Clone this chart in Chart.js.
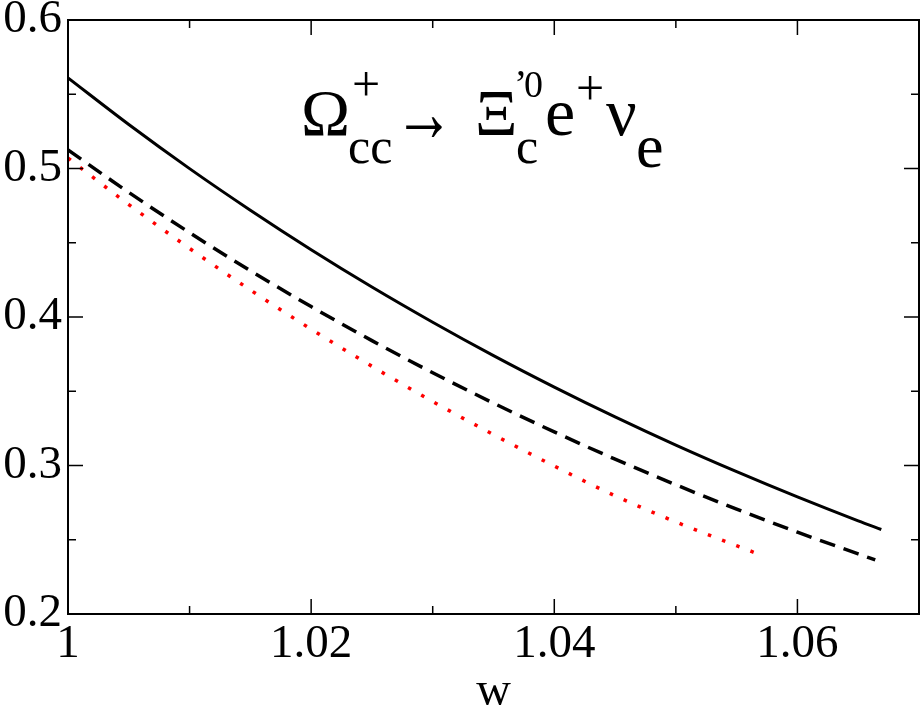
<!DOCTYPE html>
<html>
<head>
<meta charset="utf-8">
<script src="https://cdn.jsdelivr.net/npm/chart.js@4/dist/chart.umd.min.js"></script>
<style>
  html, body { margin: 0; padding: 0; background: #fff; }
  canvas { display: block; }
</style>
</head>
<body>
<canvas id="c" width="922" height="716"></canvas>
<script>
/* ===== data ===== */
const wSolid  = [1.000, 1.005, 1.010, 1.015, 1.020, 1.025, 1.030, 1.035, 1.040, 1.045, 1.050, 1.055, 1.060, 1.065, 1.0669];
const fSolid  = [0.561, 0.5296, 0.4999, 0.4719, 0.4453, 0.4202, 0.3965, 0.3740, 0.3528, 0.3327, 0.3137, 0.2958, 0.2788, 0.2627, 0.2569];

const wDashed = [1.000, 1.005, 1.010, 1.015, 1.020, 1.025, 1.030, 1.035, 1.040, 1.045, 1.050, 1.055, 1.060, 1.065, 1.0664];
const fDashed = [0.5125, 0.4839, 0.4568, 0.4312, 0.4070, 0.3841, 0.3625, 0.3420, 0.3226, 0.3043, 0.2870, 0.2706, 0.2551, 0.2405, 0.2364];

const wDotted = [1.000, 1.005, 1.010, 1.015, 1.020, 1.025, 1.030, 1.035, 1.040, 1.045, 1.050, 1.055, 1.0569];
const fDotted = [0.507, 0.4757, 0.4462, 0.4182, 0.3918, 0.3668, 0.3431, 0.3208, 0.2996, 0.2796, 0.2620, 0.2460, 0.2400];

const xMajor = [1.00, 1.02, 1.04, 1.06];
const xMinor = [1.01, 1.03, 1.05];
const yMajor = [0.2, 0.3, 0.4, 0.5, 0.6];
const yMinor = [0.25, 0.35, 0.45, 0.55];

const SERIF = 'Liberation Serif';
const pts = (ws, fs) => ws.map((w, i) => ({ x: w, y: fs[i] }));

/* ===== frame and inward ticks ===== */
const frameTicks = {
  id: 'frameTicks',
  afterDatasetsDraw(chart) {
    const { ctx, chartArea: a, scales: { x, y } } = chart;
    ctx.save();
    ctx.strokeStyle = '#000';
    ctx.lineWidth = 1.5;
    ctx.beginPath();
    const xt = (v, len) => {
      const px = x.getPixelForValue(v);
      ctx.moveTo(px, a.bottom); ctx.lineTo(px, a.bottom - len);
      ctx.moveTo(px, a.top);    ctx.lineTo(px, a.top + len);
    };
    const yt = (v, len) => {
      const py = y.getPixelForValue(v);
      ctx.moveTo(a.left, py);  ctx.lineTo(a.left + len, py);
      ctx.moveTo(a.right, py); ctx.lineTo(a.right - len, py);
    };
    xMajor.forEach(v => xt(v, 15));
    xMinor.forEach(v => xt(v, 8));
    yMajor.forEach(v => yt(v, 15));
    yMinor.forEach(v => yt(v, 8));
    ctx.stroke();
    ctx.lineWidth = 2;
    ctx.strokeRect(a.left, a.top, a.right - a.left, a.bottom - a.top);
    ctx.restore();
  }
};

/* ===== reaction label ===== */
const reaction = {
  id: 'reaction',
  afterDraw(chart) {
    const ctx = chart.ctx;
    ctx.save();
    ctx.fillStyle = '#000';
    ctx.textAlign = 'left';
    ctx.textBaseline = 'alphabetic';
    const put = (t, x, y, size) => { ctx.font = size + 'px "' + SERIF + '"'; ctx.fillText(t, x, y); };
    put('\u03A9', 301, 135, 66);
    put('+', 352, 101, 50);
    put('cc', 348, 163, 50);
    // long thin arrow, squeezed to the width seen in the figure
    ctx.font = '84px "' + SERIF + '"';
    const aw = ctx.measureText('\u2192').width;
    ctx.save();
    ctx.translate(394, 141);
    ctx.scale(60 / aw, 1);
    ctx.fillText('\u2192', 0, 0);
    ctx.restore();
    put('\u039E', 475, 135, 66);
    put('\u2019', 514, 97, 40);
    put('0', 524, 97, 38);
    put('c', 516, 163, 50);
    put('e', 545, 135, 68);
    put('+', 576, 105, 50);
    put('\u03BD', 606, 135, 68);
    put('e', 636, 167, 62);
    ctx.restore();
  }
};

new Chart(document.getElementById('c'), {
  type: 'line',
  data: {
    datasets: [
      { data: pts(wSolid, fSolid), borderColor: '#000', borderWidth: 3,
        pointRadius: 0, cubicInterpolationMode: 'monotone' },
      { data: pts(wDashed, fDashed), borderColor: '#000', borderWidth: 3.5,
        borderDash: [16, 9], pointRadius: 0, cubicInterpolationMode: 'monotone' },
      { data: pts(wDotted, fDotted), borderColor: '#ff0000', borderWidth: 3.5,
        borderDash: [3.5, 11.7], pointRadius: 0, cubicInterpolationMode: 'monotone' }
    ]
  },
  options: {
    responsive: false,
    animation: false,
    layout: { padding: { top: 20, right: 3, left: 0, bottom: 0 } },
    plugins: { legend: { display: false }, tooltip: { enabled: false } },
    scales: {
      x: {
        type: 'linear', min: 1, max: 1.07,
        grid: { display: false, drawTicks: false },
        border: { display: false },
        afterBuildTicks: s => { s.ticks = xMajor.map(v => ({ value: v })); },
        ticks: {
          color: '#000', padding: 2, autoSkip: false, maxRotation: 0,
          font: { family: SERIF, size: 47 },
          callback: v => (v === 1 ? '1' : v.toFixed(2))
        },
        title: {
          display: true, text: 'w', color: '#000',
          font: { family: SERIF, size: 48, lineHeight: 1 },
          padding: { top: 0, bottom: 0 }
        },
        afterFit: s => { s.height = 102; s.paddingLeft = 0; s.paddingRight = 0; }
      },
      y: {
        type: 'linear', min: 0.2, max: 0.6,
        grid: { display: false, drawTicks: false },
        border: { display: false },
        afterBuildTicks: s => { s.ticks = yMajor.map(v => ({ value: v })); },
        ticks: {
          color: '#000', padding: 6, autoSkip: false,
          font: { family: SERIF, size: 47 },
          callback: v => v.toFixed(1)
        },
        afterFit: s => { s.width = 68; s.paddingTop = 0; s.paddingBottom = 0; }
      }
    }
  },
  plugins: [frameTicks, reaction]
});
</script>
</body>
</html>
